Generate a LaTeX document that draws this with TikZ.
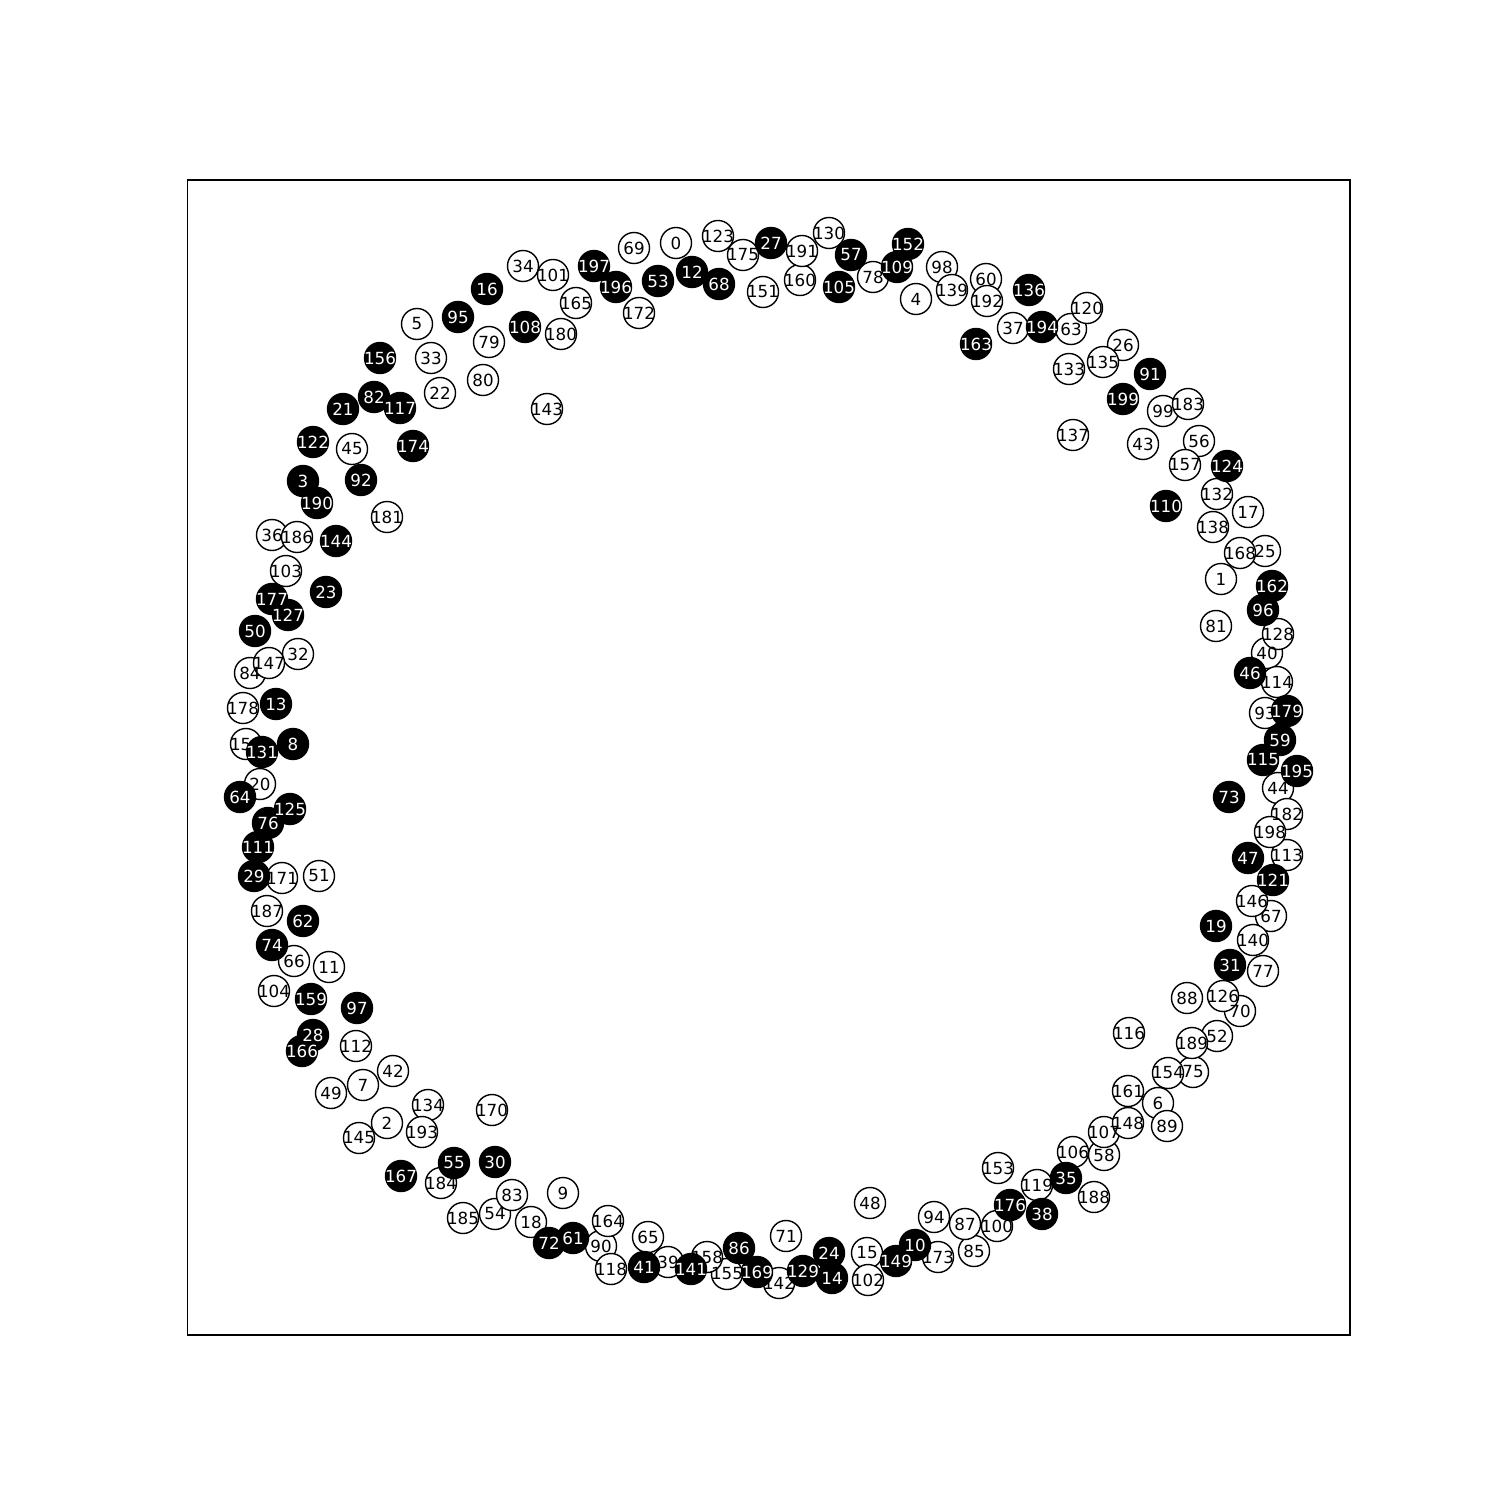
\documentclass[tikz,border=0pt]{standalone}
\usepackage{fontspec}
\setmainfont{DejaVu Sans}
\usepackage{tikz}
\newcommand{\vlabelfont}{\fontsize{4.75pt}{5pt}\selectfont}

\begin{document}
\begin{tikzpicture}[x=0.01cm, y=-0.01cm,
  opennode/.style={circle, draw=black, fill=white, line width=0.4pt, minimum size=0.31cm, inner sep=0},
  fillednode/.style={circle, draw=black, fill=black, line width=0.4pt, minimum size=0.31cm, inner sep=0},
  vlabel/.style={font=\vlabelfont, inner sep=0}]

  \useasboundingbox (0,0) rectangle (1500,1500);
  \draw[line width=0.32pt] (187.5,180) rectangle (1350,1335);

  % unmarked vertices
  \foreach \n/\x/\y in {0/676/243, 1/1221/579, 2/387/1123, 4/916/299, 5/417/324, 6/1158/1103, 7/363/1085, 9/563/1193, 11/329/967, 15/867/1253,
    17/1248/512, 18/531/1222, 20/260/784, 22/440/393, 25/1265/551, 26/1123/345, 32/298/654, 33/431/358, 34/523/266, 36/272/535,
    37/1013/328, 39/668/1262, 40/1267/653, 42/393/1071, 43/1143/444, 44/1278/788, 45/352/449, 48/870/1203, 49/331/1093, 51/319/876,
    52/1217/1036, 54/495/1214, 56/1199/441, 58/1104/1155, 60/986/279, 63/1071/329, 65/648/1237, 66/294/961, 67/1271/916, 69/634/248,
    70/1240/1011, 71/786/1236, 75/1193/1072, 77/1263/971, 78/873/277, 79/489/342, 80/483/380, 81/1216/626, 83/512/1195, 84/250/673,
    85/974/1251, 87/965/1224, 88/1187/998, 89/1167/1126, 90/601/1246, 93/1265/713, 94/934/1217, 98/942/267, 99/1163/411, 100/997/1226,
    101/553/275, 102/868/1280, 103/286/571, 104/274/991, 106/1073/1152, 107/1104/1132, 112/356/1046, 113/1287/855, 114/1277/682, 116/1129/1033,
    118/611/1269, 119/1037/1185, 120/1087/308, 123/718/236, 126/1223/996, 128/1278/634, 130/829/233, 132/1217/494, 133/1069/369, 134/428/1105,
    135/1103/362, 137/1073/435, 138/1213/527, 139/952/290, 140/1253/940, 142/779/1283, 143/547/409, 145/359/1138, 146/1252/901, 147/269/663,
    148/1128/1123, 150/246/744, 151/763/292, 153/998/1168, 154/1168/1073, 155/727/1274, 157/1185/465, 158/707/1257, 160/800/280, 161/1128/1091,
    164/608/1221, 165/576/303, 168/1240/553, 170/492/1110, 171/282/878, 172/639/313, 173/938/1257, 175/743/255, 178/243/708, 180/561/334,
    181/387/517, 182/1287/814, 183/1188/404, 184/441/1183, 185/463/1218, 186/297/537, 187/267/911, 188/1094/1197, 189/1192/1043, 191/802/251,
    192/987/301, 193/422/1132, 198/1270/832}
    \node[opennode] (v\n) at (\x,\y) {};

  % marked vertices
  \foreach \n/\x/\y in {3/303/481, 8/293/744, 10/915/1245, 12/692/272, 13/276/704, 14/832/1278, 16/487/289, 19/1216/926, 21/343/409, 23/326/592,
    24/829/1253, 27/771/243, 28/313/1035, 29/254/876, 30/495/1162, 31/1230/965, 35/1066/1178, 38/1042/1214, 41/644/1267, 46/1250/673,
    47/1248/858, 50/255/631, 53/658/281, 55/454/1163, 57/851/255, 59/1280/740, 61/573/1238, 62/303/921, 64/240/797, 68/719/284,
    72/549/1243, 73/1229/797, 74/272/945, 76/268/823, 82/374/397, 86/739/1248, 91/1150/374, 92/361/480, 95/458/317, 96/1263/610,
    97/357/1008, 105/839/287, 108/525/327, 109/897/267, 110/1166/506, 111/258/847, 115/1263/760, 117/400/408, 121/1273/880, 122/313/442,
    124/1227/466, 125/290/809, 127/288/615, 129/803/1271, 131/262/752, 136/1029/290, 141/691/1269, 144/336/541, 149/896/1261, 152/908/244,
    156/380/358, 159/311/999, 162/1272/586, 163/976/344, 166/302/1051, 167/401/1176, 169/757/1272, 174/413/446, 176/1010/1205, 177/272/599,
    179/1287/711, 190/317/503, 194/1042/327, 195/1297/771, 196/616/287, 197/594/266, 199/1123/399}
    \node[fillednode] (v\n) at (\x,\y) {};

  % labels on top
  \foreach \n in {0,1,2,4,5,6,7,9,11,15,17,18,20,22,25,26,32,33,34,36,37,39,40,42,43,44,45,48,49,51,52,54,56,58,60,63,65,66,67,69,
    70,71,75,77,78,79,80,81,83,84,85,87,88,89,90,93,94,98,99,100,101,102,103,104,106,107,112,113,114,116,118,119,120,123,126,128,
    130,132,133,134,135,137,138,139,140,142,143,145,146,147,148,150,151,153,154,155,157,158,160,161,164,165,168,170,171,172,173,
    175,178,180,181,182,183,184,185,186,187,188,189,191,192,193,198}
    \node[vlabel, text=black] (l\n) at (v\n.center) {\n};
  \foreach \n in {3,8,10,12,13,14,16,19,21,23,24,27,28,29,30,31,35,38,41,46,47,50,53,55,57,59,61,62,64,68,72,73,74,76,82,86,
    91,92,95,96,97,105,108,109,110,111,115,117,121,122,124,125,127,129,131,136,141,144,149,152,156,159,162,163,166,167,169,
    174,176,177,179,190,194,195,196,197,199}
    \node[vlabel, text=white] (l\n) at (v\n.center) {\n};

\end{tikzpicture}
\end{document}
